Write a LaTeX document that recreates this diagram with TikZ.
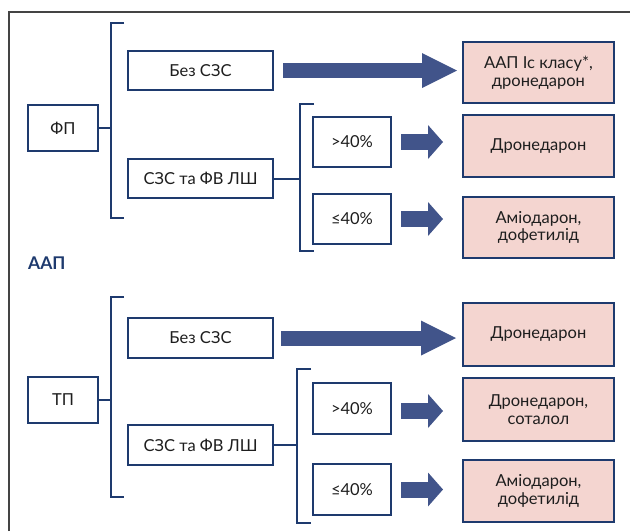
\documentclass[tikz,border=0pt]{standalone}
\usepackage{fontspec}
\setmainfont{Lato}
\usetikzlibrary{arrows.meta}
\definecolor{navy}{HTML}{1E3A6E}
\definecolor{arrowc}{HTML}{41548A}
\definecolor{pinkc}{HTML}{F4D5D0}
\definecolor{textc}{HTML}{1E1E1E}
\definecolor{framec}{HTML}{444444}
\begin{document}
\begin{tikzpicture}[x=1pt,y=-1pt,
  box/.style={draw=navy,line width=2pt,rectangle,inner sep=0pt,align=center,text=textc,font=\fontsize{16.5}{17.5}\selectfont},
  wbox/.style={box,fill=white},
  pbox/.style={box,fill=pinkc,minimum width=151pt},
  brk/.style={draw=navy,line width=2pt,line join=miter},
  bigarr/.style={draw=arrowc,line width=15pt,-{Triangle[length=35pt,width=35pt,line width=0pt]}},
  smallarr/.style={draw=arrowc,line width=16pt,-{Triangle[length=15pt,width=34pt,line width=0pt]}},
  lbl/.style={text=navy,font=\fontsize{17.5}{18}\selectfont\bfseries,inner sep=0pt,anchor=west}
]
\useasboundingbox (0,0) rectangle (630,531);
% frame
\coordinate (fbl) at (9,531);
\coordinate (ftl) at (9,12);
\coordinate (ftr) at (630,12);
\draw[framec,line width=1.5pt] (fbl) -- (ftl) -- (ftr);

% top group
\node[wbox,minimum width=70pt,minimum height=46pt] (fp) at (63,128) {ФП};
\node[wbox,minimum width=145pt,minimum height=39pt] (bez1) at (200.5,70.5) {Без СЗС};
\node[wbox,minimum width=145pt,minimum height=39pt] (szs1) at (200.5,178.5) {СЗС та ФВ ЛШ};
\node[wbox,minimum width=78pt,minimum height=50pt] (gt1) at (352,142) {>40\%};
\node[wbox,minimum width=78pt,minimum height=50pt] (le1) at (352,219) {≤40\%};
\node[pbox,minimum height=61pt] (p11) at (538.5,72.5) {ААП Іс класу*,\\дронедарон};
\node[pbox,minimum height=62pt] (p12) at (538.5,146) {Дронедарон};
\node[pbox,minimum height=61pt] (p13) at (538.5,227.5) {Аміодарон,\\дофетилід};

\coordinate (bA) at (111,127);
\coordinate (bAt) at (111,23);
\coordinate (bAb) at (111,218);
\draw[brk] ([xshift=13pt]bAt) -- (bAt) -- (bAb) -- ([xshift=13pt]bAb);
\draw[brk] (fp.east) -- (fp.east -| bA);
\coordinate (bB) at (300,178);
\coordinate (bBt) at (300,104);
\coordinate (bBb) at (300,251);
\draw[brk] ([xshift=14pt]bBt) -- (bBt) -- (bBb) -- ([xshift=14pt]bBb);
\draw[brk] (szs1.east) -- (szs1.east -| bB);

\draw[bigarr,shorten <=9pt,shorten >=5pt] (bez1.east) -- (bez1.east -| p11.west);
\draw[smallarr,shorten <=9pt,shorten >=19pt] (gt1.east) -- (gt1.east -| p12.west);
\draw[smallarr,shorten <=9pt,shorten >=19pt] (le1.east) -- (le1.east -| p13.west);

\node[lbl] (aap) at (28,263) {ААП};

% bottom group
\node[wbox,minimum width=70pt,minimum height=46pt] (tp) at (63,400) {ТП};
\node[wbox,minimum width=145pt,minimum height=40pt] (bez2) at (200.5,338) {Без СЗС};
\node[wbox,minimum width=145pt,minimum height=40pt] (szs2) at (200.5,445) {СЗС та ФВ ЛШ};
\node[wbox,minimum width=78pt,minimum height=51pt] (gt2) at (352,408.5) {>40\%};
\node[wbox,minimum width=78pt,minimum height=51pt] (le2) at (352,489.5) {≤40\%};
\node[pbox,minimum height=63pt] (p21) at (538.5,334.5) {Дронедарон};
\node[pbox,minimum height=63pt] (p22) at (538.5,409.5) {Дронедарон,\\соталол};
\node[pbox,minimum height=62pt] (p23) at (538.5,491) {Аміодарон,\\дофетилід};

\coordinate (cA) at (111,400);
\coordinate (cAt) at (111,297);
\coordinate (cAb) at (111,497);
\draw[brk] ([xshift=13pt]cAt) -- (cAt) -- (cAb) -- ([xshift=13pt]cAb);
\draw[brk] (tp.east) -- (tp.east -| cA);
\coordinate (cB) at (297,445);
\coordinate (cBt) at (297,369);
\coordinate (cBb) at (297,523);
\draw[brk] ([xshift=14pt]cBt) -- (cBt) -- (cBb) -- ([xshift=14pt]cBb);
\draw[brk] (szs2.east) -- (szs2.east -| cB);

\draw[bigarr,shorten <=7pt,shorten >=6pt] (bez2.east) -- (bez2.east -| p21.west);
\draw[smallarr,shorten <=9pt,shorten >=19pt] ([yshift=-2.5pt]gt2.east) -- ([yshift=-2.5pt]gt2.east -| p22.west);
\draw[smallarr,shorten <=9pt,shorten >=19pt] (le2.east) -- (le2.east -| p23.west);
\end{tikzpicture}
\end{document}
